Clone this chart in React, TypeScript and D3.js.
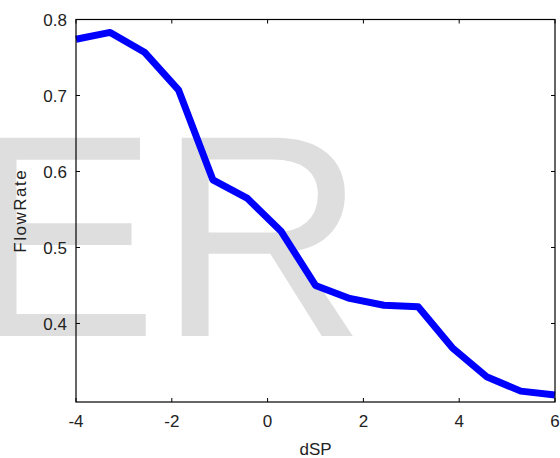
import React from "react";
import * as d3 from "d3";

const dSP = [-4, -3.286, -2.571, -1.857, -1.143, -0.429, 0.286, 1.0, 1.714, 2.429, 3.143, 3.857, 4.571, 5.286, 6];
const flowRate = [0.774, 0.783, 0.757, 0.707, 0.589, 0.565, 0.521, 0.45, 0.433, 0.424, 0.422, 0.368, 0.33, 0.311, 0.306];
const xTicks = [-4, -2, 0, 2, 4, 6];
const yTicks = [0.4, 0.5, 0.6, 0.7, 0.8];
const xLabel = "dSP";
const yLabel = "FlowRate";
const watermark = "ER";

const W = 560, H = 458;
const M = { left: 76, right: 5, top: 19.5, bottom: 56 };
const FONT = "'Liberation Sans', Arial, sans-serif";

export default function App() {
  const x = d3.scaleLinear().domain([-4, 6]).range([M.left, W - M.right]);
  const y = d3.scaleLinear().domain([0.2967, 0.8]).range([H - M.bottom, M.top]);
  const line = d3.line<number>().x((_, i) => x(dSP[i])).y((v) => y(v));
  const x0 = M.left, x1 = W - M.right, y0 = H - M.bottom, y1 = M.top;
  const tl = 4;
  return (
    <svg width={W} height={H} style={{ position: "absolute", left: 0, top: 0, background: "#fff" }}>
      <text x={-34} y={336} fontFamily={FONT} fontSize={288} fill="#dedede">{watermark}</text>
      <path d={line(flowRate) || ""} fill="none" stroke="#0000ff" strokeWidth={7} strokeLinejoin="round" />
      <rect x={x0} y={y1} width={x1 - x0} height={y0 - y1} fill="none" stroke="#000" strokeWidth={1.2} />
      {xTicks.map((t) => (
        <g key={"x" + t}>
          <line x1={x(t)} x2={x(t)} y1={y0} y2={y0 - tl} stroke="#000" />
          <line x1={x(t)} x2={x(t)} y1={y1} y2={y1 + tl} stroke="#000" />
          <text x={x(t)} y={427} textAnchor="middle" fontFamily={FONT} fontSize={17} fill="#222">{t}</text>
        </g>
      ))}
      {yTicks.map((t) => (
        <g key={"y" + t}>
          <line x1={x0} x2={x0 + tl} y1={y(t)} y2={y(t)} stroke="#000" />
          <line x1={x1} x2={x1 - tl} y1={y(t)} y2={y(t)} stroke="#000" />
          <text x={67} y={y(t)} dy="0.36em" textAnchor="end" fontFamily={FONT} fontSize={17} fill="#222">{t.toFixed(1)}</text>
        </g>
      ))}
      <text x={(x0 + x1) / 2} y={455} textAnchor="middle" fontFamily={FONT} fontSize={17} fill="#222">{xLabel}</text>
      <text transform={`translate(26,${(y0 + y1) / 2}) rotate(-90)`} textAnchor="middle" fontFamily={FONT} fontSize={17} letterSpacing={1.5} fill="#222">{yLabel}</text>
    </svg>
  );
}
